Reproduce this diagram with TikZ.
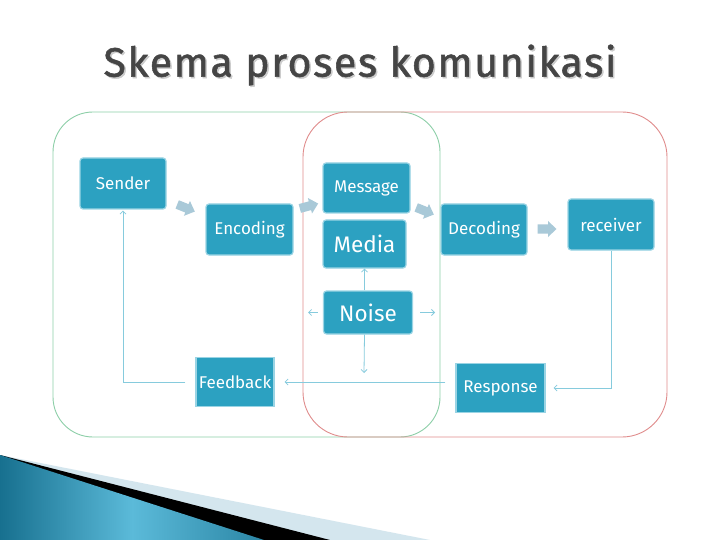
\documentclass[tikz,border=0pt]{standalone}
\usepackage{fontspec}
\setmainfont{Fira Sans}
\usepackage{xcolor}
\usepackage{tikz}
\usetikzlibrary{positioning, arrows.meta}

\definecolor{boxfill}{HTML}{2CA1C1}
\definecolor{boxedge}{HTML}{9AD4E4}
\definecolor{connline}{HTML}{86CBDD}
\definecolor{bigarrow}{HTML}{A9C9D8}
\definecolor{titlegray}{HTML}{454545}
\definecolor{greenframe}{HTML}{8DCFA8}
\definecolor{redframe}{HTML}{E08C8C}
\definecolor{swooshlight}{HTML}{D4E6EE}
\definecolor{swooshdark}{HTML}{17708F}
\definecolor{swooshmid}{HTML}{5BBAD9}

\tikzset{
  stage/.style={draw=boxedge, fill=boxfill, line width=1.2pt, rounded corners=3pt,
    text=white, inner sep=0pt, font=\fontsize{17}{20}\selectfont},
  bigstage/.style={stage, font=\fontsize{22.5}{26}\selectfont},
  flatstage/.style={stage, rounded corners=0pt},
  flowarrow/.pic={
    \fill[bigarrow] (-9.5,-4.5) -- (1,-4.5) -- (1,-8) -- (9.5,0) -- (1,8) -- (1,4.5) -- (-9.5,4.5) -- cycle;
  },
  conn/.style={draw=connline, line width=0.8pt, -{Straight Barb[length=3pt,width=6pt]}},
  titletext/.style={font=\fontsize{41}{46}\selectfont\addfontfeature{LetterSpace=4,FakeBold=1.3}},
}

\begin{document}
\begin{tikzpicture}[x=1pt, y=-1pt]
    \useasboundingbox (0,0) rectangle (720,540);
    \fill[white] (0,0) rectangle (720,540);

    % title
    \node[titletext, text=black!20] at (361.5,66.5) {Skema proses komunikasi};
    \node[titletext, text=titlegray] (title) at (360,65) {Skema proses komunikasi};

    % frames
    \draw[greenframe, line width=0.9pt, rounded corners=40pt] (53,112) rectangle (440,437);
    \draw[redframe, line width=0.9pt, rounded corners=45pt] (303,112) rectangle (667,437);

    % swoosh
    \fill[swooshlight] (0,455) -- (430,540) -- (0,540) -- cycle;
    \fill[black] (0,455) -- (330,540) -- (0,540) -- cycle;
    \shade[left color=swooshdark, right color=swooshdark!70!swooshmid, middle color=swooshmid]
      (0,455) -- (264,540) -- (0,540) -- cycle;

    % stages
    \node[stage, minimum width=86pt, minimum height=51pt] (sender) at (123,183.5) {Sender};
    \node[stage, minimum width=87pt, minimum height=51pt] (encoding) at (249.5,229.5) {Encoding};
    \node[stage, minimum width=87pt, minimum height=50pt] (message) at (366.5,188) {Message};
    \node[bigstage, minimum width=83pt, minimum height=48pt] (media) at (364.5,244) {Media};
    \node[bigstage, minimum width=89pt, minimum height=43pt] (noise) at (368,312.5) {Noise};
    \node[stage, minimum width=86pt, minimum height=51pt] (decoding) at (484,229.5) {Decoding};
    \node[stage, minimum width=86pt, minimum height=51pt] (receiver) at (611,224.5) {receiver};
    \node[flatstage, minimum width=78pt, minimum height=49pt] (feedback) at (235,382) {Feedback};
    \node[flatstage, minimum width=89pt, minimum height=49pt] (response) at (500.5,388) {Response};

    % block arrows
    \pic[rotate=-22] at (186,208) {flowarrow};
    \pic[rotate=15] at (309,206) {flowarrow};
    \pic[rotate=-22] at (425,211) {flowarrow};
    \pic at (547,229) {flowarrow};

    % free ends
    \coordinate (nleft) at (308,312.5);
    \coordinate (nright) at (435,312.5);
    \coordinate (ndown) at (364,373);

    % connectors
    \draw[conn, shorten <=10pt, shorten >=1pt] (feedback.west) -| (sender.south);
    \draw[conn, shorten <=10pt, shorten >=10pt] (response.west |- feedback.east) -- (feedback.east);
    \draw[conn, shorten >=8pt] (receiver.south) |- (response.east);
    \draw[conn] (noise.north -| media.south) -- (media.south);
    \draw[conn, shorten <=5pt] (noise.west) -- (nleft);
    \draw[conn, shorten <=7pt] (noise.east) -- (nright);
    \draw[conn] (noise.south -| media.south) -- (ndown);
  \end{tikzpicture}
\end{document}
